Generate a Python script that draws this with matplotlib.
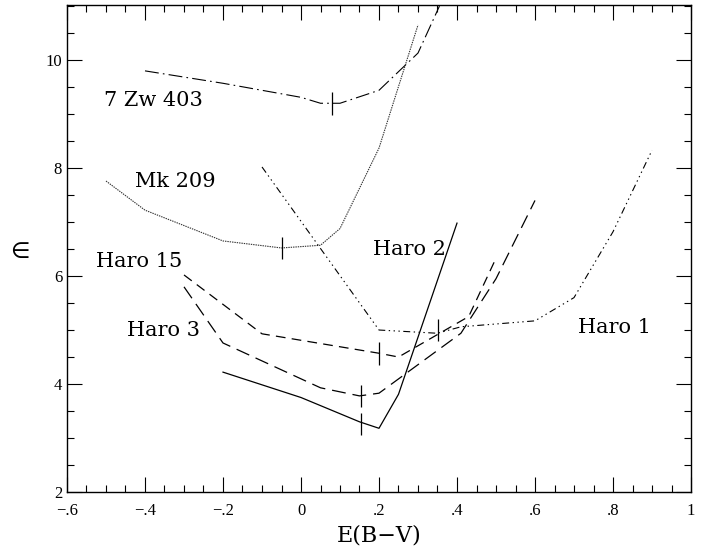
import matplotlib
matplotlib.use("Agg")
import matplotlib.pyplot as plt
from matplotlib.ticker import MultipleLocator, FuncFormatter

plt.rcParams['font.family'] = ['Liberation Serif', 'DejaVu Serif']
plt.rcParams['lines.scale_dashes'] = False

# E(B-V) vs epsilon curves
zw403_x = [-0.4, -0.2, 0.0, 0.05, 0.1, 0.2, 0.3, 0.355]
zw403_y = [9.8, 9.57, 9.31, 9.2, 9.2, 9.44, 10.13, 11.0]

mk209_x = [-0.5, -0.4, -0.2, -0.05, 0.05, 0.1, 0.2, 0.3]
mk209_y = [7.76, 7.22, 6.65, 6.52, 6.57, 6.88, 8.37, 10.65]

haro1_x = [-0.1, 0.2, 0.35, 0.41, 0.6, 0.7, 0.8, 0.9]
haro1_y = [8.02, 5.0, 4.94, 5.06, 5.17, 5.6, 6.82, 8.33]

haro15_x = [-0.3, -0.1, 0.2, 0.25, 0.43, 0.5]
haro15_y = [6.02, 4.93, 4.57, 4.5, 5.25, 6.33]

haro3_x = [-0.3, -0.2, 0.05, 0.15, 0.2, 0.41, 0.5, 0.6]
haro3_y = [5.8, 4.76, 3.93, 3.78, 3.83, 4.94, 5.95, 7.4]

haro2_x = [-0.2, 0.0, 0.15, 0.2, 0.25, 0.4]
haro2_y = [4.22, 3.75, 3.3, 3.18, 3.81, 6.98]

# adopted E(B-V) marks on each curve
mark_x = [0.08, -0.05, 0.35, 0.2, 0.155, 0.155]
mark_y = [9.2, 6.52, 5.0, 4.56, 3.78, 3.26]

names = ['7 Zw 403', 'Mk 209', 'Haro 1', 'Haro 15', 'Haro 3', 'Haro 2']
name_x = [-0.505, -0.425, 0.71, -0.525, -0.445, 0.185]
name_y = [9.26, 7.76, 5.04, 6.26, 5.0, 6.5]

fig = plt.figure(figsize=(7.02, 5.52), dpi=100)
ax = fig.add_axes([67/702, 60/552, 624/702, 487/552])

ax.plot(zw403_x, zw403_y, color='k', lw=0.8, ls=(0, (10, 3, 1.2, 3)))
ax.plot(mk209_x, mk209_y, color='#333333', lw=0.8, ls=(0, (1, 0.7)))
ax.plot(haro1_x, haro1_y, color='k', lw=0.8, ls=(0, (5, 2.5, 1, 2.5, 1, 2.5, 1, 2.5)))
ax.plot(haro15_x, haro15_y, color='k', lw=0.9, ls=(0, (7, 4.5)))
ax.plot(haro3_x, haro3_y, color='k', lw=0.9, ls=(0, (10, 5)))
ax.plot(haro2_x, haro2_y, color='k', lw=0.9)

ax.vlines(mark_x, [y - 0.21 for y in mark_y], [y + 0.21 for y in mark_y], color='k', lw=0.9)

for n, x, y in zip(names, name_x, name_y):
    ax.text(x, y, n, fontsize=15, va='center', ha='left', family='DejaVu Serif')

ax.set_xlim(-0.6, 1.0)
ax.set_ylim(2, 11.02)
ax.xaxis.set_major_locator(MultipleLocator(0.2))
ax.xaxis.set_minor_locator(MultipleLocator(0.05))
ax.yaxis.set_major_locator(MultipleLocator(2))
ax.yaxis.set_minor_locator(MultipleLocator(0.5))


def fmt_x(v, pos):
    if abs(v) < 1e-9:
        return '0'
    if abs(abs(v) - 1) < 1e-9:
        return '1' if v > 0 else '\u22121'
    s = '%.1f' % abs(v)
    s = s.lstrip('0')
    return ('\u2212' + s) if v < 0 else s


ax.xaxis.set_major_formatter(FuncFormatter(fmt_x))
ax.yaxis.set_major_formatter(FuncFormatter(lambda v, p: '%d' % v))
ax.tick_params(which='both', direction='in', top=True, right=True, width=0.8, labelsize=12)
ax.tick_params(which='major', length=11)
ax.tick_params(which='minor', length=5)
ax.tick_params(axis='x', pad=8)
for sp in ax.spines.values():
    sp.set_linewidth(1.0)

ax.set_xlabel('E(B\u2212V)', fontsize=16, labelpad=4, family='DejaVu Serif')
fig.text(20/702, 1 - 252/552, '\u2208', fontsize=16, ha='center', va='center',
         family=['DejaVu Sans'])

fig.savefig('out.png', dpi=100)
